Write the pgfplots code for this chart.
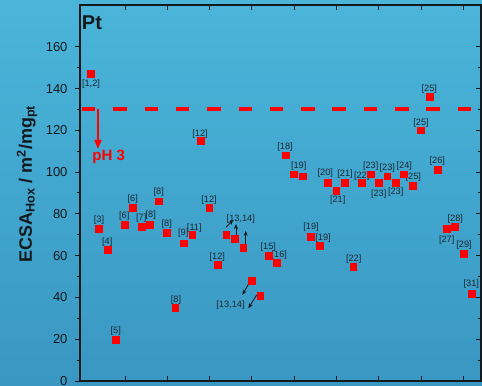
\documentclass[border=0pt]{standalone}
\usepackage{fontspec}
\setmainfont{Liberation Sans}
\usepackage{pgfplots}
\pgfplotsset{compat=1.18}
\usetikzlibrary{arrows.meta}
\definecolor{bgtop}{RGB}{74,181,217}
\definecolor{bgbot}{RGB}{57,151,194}
\definecolor{lab}{RGB}{28,38,48}
\definecolor{ax}{RGB}{20,25,30}
\definecolor{pr}{RGB}{255,0,0}
\begin{document}
\begin{tikzpicture}
\shade[top color=bgtop,bottom color=bgbot] (-80bp,-5bp) rectangle (402bp,381bp);
\begin{axis}[at={(0,0)},anchor=south west,scale only axis,
  width=401bp,height=376bp,xmin=0,xmax=401,ymin=0,ymax=180,
  clip=false,
  axis line style={line width=1.5bp,color=ax},
  xtick=\empty,
  ytick={0,20,...,160},minor y tick num=1,
  ytick pos=left,tick align=outside,
  major tick length=5bp,minor tick length=3bp,
  every tick/.style={line width=1bp,color=ax},
  yticklabel style={font=\fontsize{13bp}{15bp}\selectfont,color=ax,xshift=-4bp},
  /pgf/number format/assume math mode=true,
  ylabel={\bfseries ECSA\textsubscript{Hox} / m\textsuperscript{2}/mg\textsubscript{pt}},
  ylabel style={at={(axis description cs:-0.132,0.524)},anchor=center,font=\fontsize{18bp}{20bp}\selectfont,color=ax},
]
\addplot[pr,line width=4bp,dash pattern=on 13.5bp off 17.8bp] coordinates {(2,130.4) (401,130.4)};
\addplot[only marks,mark=square*,mark size=3.4bp,color=pr,mark options={line width=0.2bp}] coordinates {
(10.3,147.2) (19,72.8) (27.3,62.9) (35.7,19.8) (44.3,74.7) (52.7,83.0) (61.3,73.9) (69.7,74.9)
(78.3,86.1) (86.7,70.9) (95,35.0) (103.3,66.0) (112,69.9) (120.3,115.1) (129,82.9) (137.3,55.9)
(146,69.9) (154.3,68.0) (163,63.9) (171.5,47.9) (180,40.9) (188.3,60.0) (196.7,56.7) (205.3,108.1)
(213.7,99.0) (222.3,98.1) (230.7,69.0) (239.3,65.0) (247.3,95.0) (256,91.0) (264.3,95.0) (273,54.9)
(281.3,95.0) (290.3,99.0) (298.7,95.0) (307,98.1) (315.3,95.0) (323.7,99.0) (332.3,93.6) (340.7,120.1)
(349.3,136.0) (357.7,101.1) (366.3,73.0) (374.3,73.9) (383.3,61.0) (391.3,42.0)
};
\draw[pr,line width=2bp,-{Triangle[length=9bp,width=7bp]}] (axis cs:18,130.4) -- (axis cs:18,111.1);
\node[pr,font=\fontsize{15bp}{17bp}\selectfont\bfseries] at (axis cs:28.7,107.4) {pH 3};
\node[ax,font=\fontsize{20bp}{22bp}\selectfont\bfseries] at (axis cs:12,171.6) {Pt};
\begin{scope}[every node/.style={lab,font=\fontsize{9.2bp}{10bp}\selectfont,inner sep=0pt}]
\node at (axis cs:11,142.3) {[1,2]};
\node at (axis cs:19,76.8) {[3]};
\node at (axis cs:27.3,66.4) {[4]};
\node at (axis cs:35.7,24.0) {[5]};
\node at (axis cs:44.3,78.7) {[6]};
\node at (axis cs:52.7,87.2) {[6]};
\node at (axis cs:61.3,78.1) {[7]};
\node at (axis cs:70.7,79.2) {[8]};
\node at (axis cs:78.7,90.4) {[8]};
\node at (axis cs:86.7,75.1) {[8]};
\node at (axis cs:96,38.8) {[8]};
\node at (axis cs:103.3,70.6) {[9]};
\node at (axis cs:114.3,73.4) {[11]};
\node at (axis cs:120,118.3) {[12]};
\node at (axis cs:129,86.4) {[12]};
\node at (axis cs:137.3,59.4) {[12]};
\node at (axis cs:160.8,77.6) {[13,14]};
\node at (axis cs:150.5,36.4) {[13,14]};
\node at (axis cs:188.3,64.3) {[15]};
\node at (axis cs:199.3,60.4) {[16]};
\node at (axis cs:205,111.8) {[18]};
\node at (axis cs:218.7,103.1) {[19]};
\node at (axis cs:231,73.8) {[19]};
\node at (axis cs:243,68.2) {[19]};
\node at (axis cs:245.3,99.3) {[20]};
\node at (axis cs:257.7,86.4) {[21]};
\node at (axis cs:265,98.8) {[21]};
\node at (axis cs:273.7,58.4) {[22]};
\node at (axis cs:281.7,98.2) {[22]};
\node at (axis cs:290.7,102.7) {[23]};
\node at (axis cs:298.7,89.6) {[23]};
\node at (axis cs:307.3,101.9) {[23]};
\node at (axis cs:315.7,90.5) {[23]};
\node at (axis cs:324.3,102.9) {[24]};
\node at (axis cs:333.3,97.4) {[25]};
\node at (axis cs:341,123.6) {[25]};
\node at (axis cs:349.3,139.9) {[25]};
\node at (axis cs:357.3,105.1) {[26]};
\node at (axis cs:366.7,67.5) {[27]};
\node at (axis cs:375.3,77.3) {[28]};
\node at (axis cs:384,65.0) {[29]};
\node at (axis cs:391.3,46.5) {[31]};
\end{scope}
\begin{scope}[ax,line width=0.9bp,-{Stealth[length=5bp,width=4bp]}]
\draw (axis cs:146,73.6) -- (axis cs:153.3,77.1);
\draw (axis cs:156,67.5) -- (axis cs:156,75.1);
\draw (axis cs:165.7,65.1) -- (axis cs:165.7,71.9);
\draw (axis cs:170,47.6) -- (axis cs:162.3,41.2);
\draw (axis cs:176.7,41.2) -- (axis cs:168.3,34.8);
\end{scope}
\end{axis}
\begin{axis}[at={(0,0)},anchor=south west,scale only axis,
  width=401bp,height=376bp,xmin=0,xmax=401,ymin=0,ymax=180,
  axis line style={line width=1.5bp,color=ax},
  xtick={45,87,129,171,214,256,298,341,383},xticklabels={},
  xtick pos=both,
  ytick={0,20,...,160},minor y tick num=1,yticklabels={},
  ytick pos=right,tick align=inside,
  major tick length=5bp,minor tick length=3bp,
  every tick/.style={line width=1bp,color=ax},
]
\end{axis}
\pgfresetboundingbox
\path (-80bp,-5bp) rectangle (402bp,381bp);
\end{tikzpicture}
\end{document}
